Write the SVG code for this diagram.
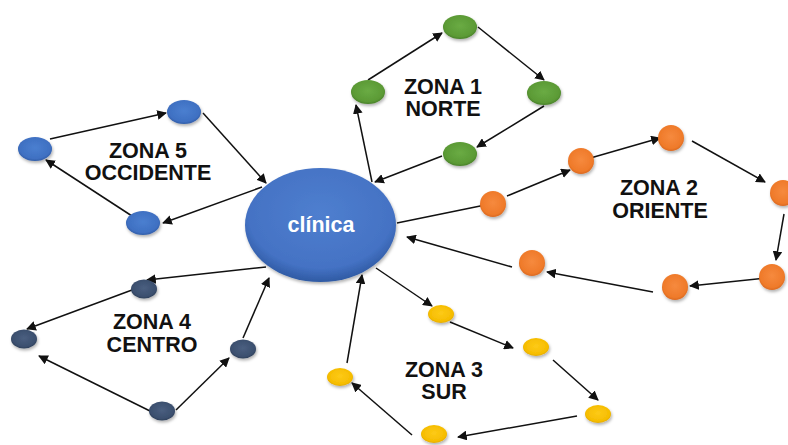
<svg xmlns="http://www.w3.org/2000/svg" width="788" height="445" viewBox="0 0 788 445">
<style>
.lbl{font-family:"Liberation Sans",Arial,sans-serif;font-weight:bold;font-size:21.5px;fill:#111;text-anchor:middle}
.ttl{font-family:"Liberation Sans",Arial,sans-serif;font-weight:bold;font-size:21.5px;fill:#fff;text-anchor:middle}
.c line{stroke:#111;stroke-width:1.5;marker-end:url(#ah)}
.g{fill:url(#gG);filter:url(#sh)}
.o{fill:url(#gO);filter:url(#sh)}
.y{fill:url(#gY);filter:url(#sh)}
.d{fill:url(#gD);filter:url(#sh)}
.b{fill:url(#gB);filter:url(#sh)}
</style>
<defs>
<marker id="ah" viewBox="0 0 10 10" refX="9" refY="5" markerWidth="6.5" markerHeight="6.5" orient="auto" markerUnits="strokeWidth">
<path d="M0,0 L10,5 L0,10 z" fill="#111"/>
</marker>
<filter id="sh" x="-30%" y="-30%" width="160%" height="170%">
<feDropShadow dx="1" dy="2" stdDeviation="1.5" flood-color="#000" flood-opacity="0.3"/>
</filter>
<radialGradient id="gG" cx="50%" cy="45%" r="60%"><stop offset="0" stop-color="#6aab44"/><stop offset="0.75" stop-color="#5b9a35"/><stop offset="1" stop-color="#3f7323"/></radialGradient>
<radialGradient id="gO" cx="50%" cy="45%" r="60%"><stop offset="0" stop-color="#f68a3e"/><stop offset="0.75" stop-color="#ef7a2a"/><stop offset="1" stop-color="#d0601a"/></radialGradient>
<radialGradient id="gY" cx="50%" cy="45%" r="60%"><stop offset="0" stop-color="#fdca16"/><stop offset="0.75" stop-color="#f6bd02"/><stop offset="1" stop-color="#d89f00"/></radialGradient>
<radialGradient id="gD" cx="50%" cy="45%" r="60%"><stop offset="0" stop-color="#4a5f80"/><stop offset="0.75" stop-color="#3b4f6e"/><stop offset="1" stop-color="#27374f"/></radialGradient>
<radialGradient id="gB" cx="50%" cy="45%" r="60%"><stop offset="0" stop-color="#4a7fd0"/><stop offset="0.75" stop-color="#3f70c2"/><stop offset="1" stop-color="#2a539a"/></radialGradient>
<radialGradient id="gC" cx="50%" cy="40%" r="60%"><stop offset="0" stop-color="#4f7fcf"/><stop offset="0.8" stop-color="#4472c4"/><stop offset="1" stop-color="#2f5aa3"/></radialGradient>
</defs>

<g id="connectors" class="c">
<!-- zone 1 -->
<line x1="372" y1="182" x2="356" y2="105"/>
<line x1="368" y1="80" x2="442" y2="33"/>
<line x1="478" y1="27" x2="544" y2="80"/>
<line x1="544" y1="106" x2="477" y2="147"/>
<line x1="442" y1="156" x2="375" y2="182"/>
<!-- zone 2 -->
<line x1="397" y1="223" x2="490" y2="204"/>
<line x1="507" y1="196" x2="570" y2="170"/>
<line x1="587" y1="159" x2="660" y2="138"/>
<line x1="692" y1="141" x2="765" y2="182"/>
<line x1="784" y1="214" x2="776" y2="260"/>
<line x1="766" y1="278" x2="690" y2="286"/>
<line x1="653" y1="292" x2="547" y2="272"/>
<line x1="512" y1="267" x2="407" y2="237"/>
<!-- zone 3 -->
<line x1="376" y1="268" x2="432" y2="306"/>
<line x1="450" y1="322" x2="513" y2="348"/>
<line x1="553" y1="360" x2="598" y2="400"/>
<line x1="577" y1="416" x2="458" y2="437"/>
<line x1="412" y1="435" x2="352" y2="383"/>
<line x1="347" y1="363" x2="362" y2="275"/>
<!-- zone 4 -->
<line x1="266" y1="267" x2="147" y2="280"/>
<line x1="132" y1="290" x2="27" y2="329"/>
<line x1="150" y1="411" x2="39" y2="356"/>
<line x1="176" y1="410" x2="229" y2="358"/>
<line x1="243" y1="338" x2="269" y2="278"/>
<!-- zone 5 -->
<line x1="50" y1="139" x2="166" y2="113"/>
<line x1="203" y1="113" x2="266" y2="183"/>
<line x1="262" y1="187" x2="163" y2="223"/>
<line x1="132" y1="216" x2="46" y2="160"/>
</g>

<g id="clinica">
<ellipse cx="320.5" cy="225" rx="75.5" ry="57" fill="url(#gC)" filter="url(#sh)"/>
<text class="ttl" x="321" y="232">clínica</text>
</g>

<g id="zona1">
<ellipse class="g" cx="460" cy="27" rx="17" ry="12"/>
<ellipse class="g" cx="368" cy="92" rx="17" ry="12"/>
<ellipse class="g" cx="544" cy="93" rx="17" ry="12"/>
<ellipse class="g" cx="460" cy="154" rx="17" ry="12"/>
<text class="lbl" x="443" y="94">ZONA 1</text>
<text class="lbl" x="443" y="116">NORTE</text>
</g>

<g id="zona2">
<circle class="o" cx="493" cy="204" r="13"/>
<circle class="o" cx="581" cy="161" r="13"/>
<circle class="o" cx="671" cy="138" r="13"/>
<circle class="o" cx="783" cy="193" r="13"/>
<circle class="o" cx="772" cy="277" r="13"/>
<circle class="o" cx="675" cy="287" r="13"/>
<circle class="o" cx="532" cy="263" r="13"/>
<text class="lbl" x="659" y="195">ZONA 2</text>
<text class="lbl" x="660" y="218">ORIENTE</text>
</g>

<g id="zona3">
<ellipse class="y" cx="441" cy="314" rx="13" ry="9"/>
<ellipse class="y" cx="536" cy="347" rx="13" ry="9"/>
<ellipse class="y" cx="598" cy="414" rx="13" ry="9"/>
<ellipse class="y" cx="434" cy="434" rx="13" ry="9"/>
<ellipse class="y" cx="340" cy="377" rx="13" ry="9"/>
<text class="lbl" x="444" y="377">ZONA 3</text>
<text class="lbl" x="444" y="399">SUR</text>
</g>

<g id="zona4">
<ellipse class="d" cx="144" cy="289" rx="13" ry="9.5"/>
<ellipse class="d" cx="24" cy="339" rx="13" ry="9.5"/>
<ellipse class="d" cx="162" cy="411" rx="13" ry="9.5"/>
<ellipse class="d" cx="243" cy="349" rx="13" ry="9.5"/>
<text class="lbl" x="152" y="329">ZONA 4</text>
<text class="lbl" x="152" y="352">CENTRO</text>
</g>

<g id="zona5">
<ellipse class="b" cx="35" cy="149" rx="17" ry="12"/>
<ellipse class="b" cx="184" cy="112" rx="17" ry="12"/>
<ellipse class="b" cx="143" cy="223" rx="17" ry="12"/>
<text class="lbl" x="148" y="158">ZONA 5</text>
<text class="lbl" x="148" y="180">OCCIDENTE</text>
</g>
</svg>
